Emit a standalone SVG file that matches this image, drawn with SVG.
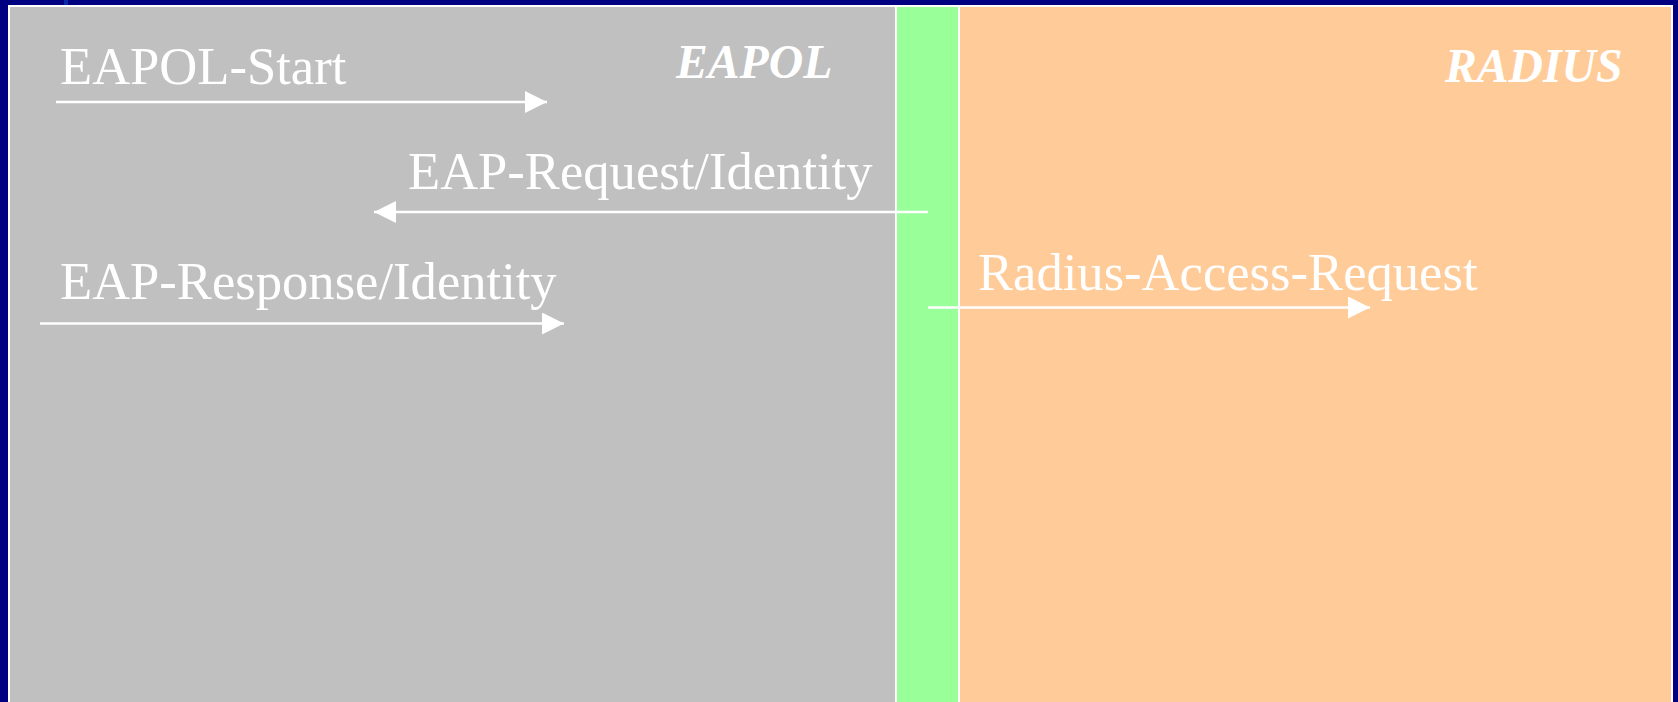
<svg xmlns="http://www.w3.org/2000/svg" width="1678" height="702" viewBox="0 0 1678 702">
<defs>
<style>
.lbl{font-family:"Liberation Serif","Times New Roman",serif;font-size:52.6px;fill:#ffffff}
.ttl{font-family:"Liberation Serif","Times New Roman",serif;font-size:47.7px;font-weight:bold;font-style:italic;fill:#ffffff}
.conn{stroke:#ffffff;stroke-width:2.5;fill:none}
</style>
<marker id="ah" markerUnits="userSpaceOnUse" markerWidth="22" markerHeight="22" viewBox="0 0 20 20" refX="20" refY="10" orient="auto">
<path d="M0,0 L20,10 L0,20 Z" fill="#ffffff"/>
</marker>
</defs>
<rect x="0" y="0" width="1678" height="702" fill="#000080"/>
<rect x="64" y="0" width="4" height="6" fill="#0a2aa8"/>
<g id="eapol-zone">
<rect x="8" y="5" width="889" height="697" fill="#ffffff"/>
<rect x="10" y="7" width="885" height="695" fill="#c0c0c0"/>
<text class="ttl" x="676" y="78">EAPOL</text>
</g>
<g id="authenticator">
<rect x="897" y="5" width="63" height="697" fill="#ffffff"/>
<rect x="897" y="7" width="61" height="695" fill="#99ff99"/>
</g>
<g id="radius-zone">
<rect x="958" y="5" width="715" height="697" fill="#ffffff"/>
<rect x="960" y="7" width="711" height="695" fill="#ffcc99"/>
<text class="ttl" x="1445" y="82">RADIUS</text>
</g>
<g id="labels">
<text class="lbl" x="60" y="84">EAPOL-Start</text>
<text class="lbl" x="408" y="189">EAP-Request/Identity</text>
<text class="lbl" x="60" y="299">EAP-Response/Identity</text>
<text class="lbl" x="978" y="290">Radius-Access-Request</text>
</g>
<g id="connectors">
<line class="conn" x1="56" y1="102" x2="547" y2="102" marker-end="url(#ah)"/>
<line class="conn" x1="928" y1="212" x2="374" y2="212" marker-end="url(#ah)"/>
<line class="conn" x1="40" y1="323.5" x2="564" y2="323.5" marker-end="url(#ah)"/>
<line class="conn" x1="928" y1="307.5" x2="1370" y2="307.5" marker-end="url(#ah)"/>
</g>
</svg>
